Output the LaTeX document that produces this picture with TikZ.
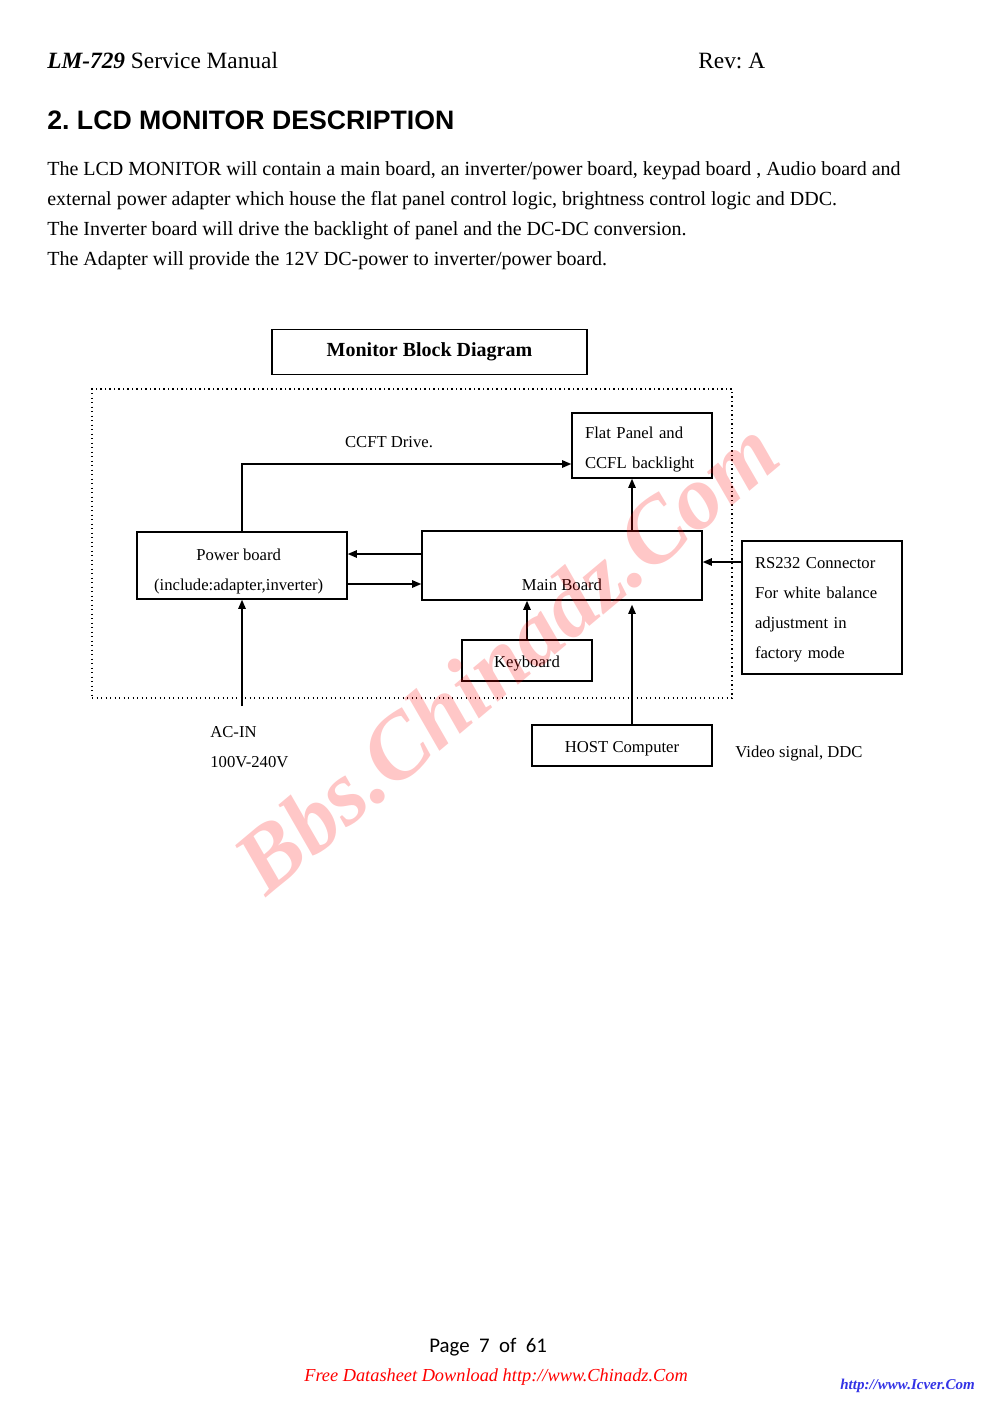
\documentclass[tikz,border=0pt]{standalone}
\usepackage{fontspec}
\setmainfont{Liberation Serif}
\newfontfamily\headfont{Liberation Sans}
\newfontfamily\pagefont{Carlito}
\usetikzlibrary{arrows.meta}
\definecolor{linkblue}{RGB}{51,51,230}
\frenchspacing
\tikzset{
  blockbox/.style={draw, line width=0.9pt, inner sep=0pt},
  boxtext/.style={font=\fontsize{10}{18}\selectfont, inner sep=0pt, anchor=center},
  link/.style={-{Triangle[length=5.5pt,width=4.5pt]}, line width=0.8pt},
  bodyline/.style={anchor=base west, inner sep=0pt, font=\fontsize{12}{14}\selectfont},
  smalltext/.style={font=\fontsize{10}{12}\selectfont, inner sep=0pt},
}
\begin{document}
\begin{tikzpicture}[x=0.6pt, y=-0.6pt]
  \useasboundingbox[fill=white] (0,0) rectangle (992,1404);

  % page header
  \node[bodyline, font=\fontsize{14}{16}\selectfont] (hdr) at (47,69) {\textbf{\textit{LM-729}} Service Manual};
  \node[bodyline, font=\fontsize{14}{16}\selectfont] (rev) at (698,69) {Rev: A};
  \node[bodyline, font=\headfont\bfseries\fontsize{16}{18}\selectfont] (sect) at (47,130) {2. LCD MONITOR DESCRIPTION};

  % description
  \node[bodyline] (l1) at (47,175) {The LCD MONITOR will contain a main board, an inverter/power board, keypad board , Audio board and};
  \node[bodyline] (l2) at (47,205) {external power adapter which house the flat panel control logic, brightness control logic and DDC.};
  \node[bodyline] (l3) at (47,235) {The Inverter board will drive the backlight of panel and the DC-DC conversion.};
  \node[bodyline] (l4) at (47,265) {The Adapter will provide the 12V DC-power to inverter/power board.};

  % title and monitor frame
  \node[draw, line width=0.9pt, minimum width=189pt, minimum height=27pt, font=\bfseries\fontsize{12}{14}\selectfont] (title) at (429.5,352) {Monitor Block Diagram};
  \node[draw, dotted, line width=0.7pt, minimum width=384pt, minimum height=185.4pt] (monitor) at (412,543.5) {};

  % blocks
  \node[blockbox, minimum width=84pt, minimum height=39pt,
        label={[boxtext, align=left, text width=68.4pt, yshift=-2.4pt]center:{Flat Panel and\\CCFL backlight}}] (panel) at (642,445.5) {};
  \node[blockbox, minimum width=126pt, minimum height=40.2pt,
        label={[boxtext, align=center, xshift=-2pt, yshift=-3.6pt]center:{Power board\\(include:adapter,inverter)}}] (power) at (242,565.5) {};
  \node[blockbox, minimum width=168pt, minimum height=41.4pt,
        label={[boxtext, yshift=9.6pt]south:Main Board}] (main) at (562,565.5) {};
  \node[blockbox, minimum width=78pt, minimum height=24.6pt,
        label={[boxtext, yshift=-1.8pt]center:Keyboard}] (kbd) at (527,660.5) {};
  \node[blockbox, minimum width=108pt, minimum height=24.6pt,
        label={[boxtext, yshift=-1.8pt]center:HOST Computer}] (host) at (622,745.5) {};
  \node[blockbox, minimum width=96pt, minimum height=79.8pt,
        label={[boxtext, align=left, text width=80.4pt, yshift=-1.2pt]center:{RS232 Connector\\For white balance\\adjustment in\\factory mode}}] (rs) at (822,607.5) {};

  % labels
  \node[smalltext] (ccft) at (389,442) {CCFT Drive.};
  \node[smalltext, anchor=west] (acl) at (210,732) {AC-IN};
  \node[smalltext, anchor=west] (volt) at (210,762) {100V-240V};
  \node[smalltext, anchor=west] (video) at (735,754) {Video signal, DDC};

  % connectors
  \draw[link] (power.north) |- ([yshift=-11.1pt]panel.west);
  \draw[link] ([yshift=6.9pt]main.west) -- ([yshift=6.9pt]power.east);
  \draw[link] ([yshift=-11.1pt]power.east) -- ([yshift=-11.1pt]main.west);
  \draw[link] ([xshift=-6pt]panel.south |- main.north) -- ([xshift=-6pt]panel.south);
  \draw[link] (kbd.north) -- (kbd.north |- main.south);
  \coordinate (hostout) at ([xshift=6pt]host.north);
  \draw[link, shorten >=2.4pt] (hostout) -- (hostout |- main.south);
  \coordinate (rsin) at ([yshift=27.3pt]rs.west);
  \draw[link] (rsin) -- (rsin -| main.east);
  \coordinate (acin) at (242,706);
  \draw[link] (acin) -- (power.south);

  % page footer
  \node[bodyline, font=\pagefont\fontsize{12.5}{14}\selectfont] (page) at (429,1352) {Page~ 7~ of~ 61};
  \node[bodyline, font=\itshape\fontsize{11}{13}\selectfont, text=red] (free) at (304,1381) {Free Datasheet Download http://www.Chinadz.Com};
  \node[bodyline, font=\bfseries\itshape\fontsize{9}{11}\selectfont, text=linkblue] (icver) at (840,1389) {http://www.Icver.Com};

  % watermark
  \node[rotate=40, font=\bfseries\itshape\fontsize{54.5}{56}\selectfont, text=red, opacity=0.22] (mark) at (506,656) {Bbs.Chinadz.Com};
\end{tikzpicture}
\end{document}
